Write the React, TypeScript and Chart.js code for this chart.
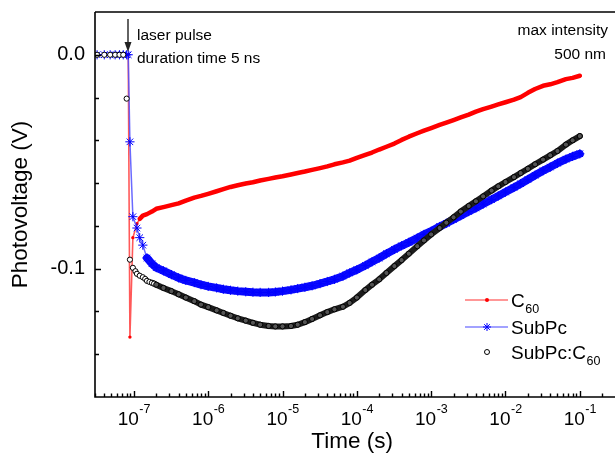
import React, { useEffect, useRef } from 'react';
import { Chart, registerables } from 'chart.js';
Chart.register(...registerables);

const FONT = '"Liberation Sans", Arial, Helvetica, sans-serif';

// ---- data (time in s, photovoltage in V) ----
const c60EarlyTime = [3.2e-8, 4.0e-8, 4.8e-8, 5.6e-8, 6.4e-8, 7.2e-8, 8.0e-8, 8.4e-8, 8.85e-8, 9.7e-8, 1.1e-7, 1.2e-7, 1.32e-7, 1.5e-7, 1.75e-7];
const c60EarlyV = [0, 0, 0, 0, 0, 0, 0, 0, -0.132, -0.0855, -0.079, -0.0767, -0.0752, -0.0745, -0.0733];

const subpcEarlyTime = [3.2e-8, 4.0e-8, 4.8e-8, 5.6e-8, 6.4e-8, 7.2e-8, 8.0e-8, 8.4e-8, 8.85e-8, 9.7e-8, 1.1e-7, 1.2e-7, 1.32e-7, 1.5e-7, 1.75e-7];
const subpcEarlyV = [0, 0, 0, 0, 0, 0, 0, 0, -0.0407, -0.0757, -0.081, -0.0855, -0.089, -0.095, -0.0977];

const blendEarlyTime = [3.2e-8, 4.0e-8, 4.8e-8, 5.6e-8, 6.4e-8, 7.2e-8, 8.0e-8, 8.85e-8, 9.7e-8, 1.05e-7, 1.1e-7, 1.2e-7, 1.32e-7, 1.42e-7, 1.5e-7, 1.62e-7, 1.75e-7, 1.87e-7];
const blendEarlyV = [0, 0, 0, 0, 0, 0, -0.0205, -0.0958, -0.0996, -0.1012, -0.1024, -0.1033, -0.104, -0.1048, -0.1057, -0.1062, -0.1066, -0.107];

const lateTime = [
  2e-7, 2.5e-7, 3.2e-7, 4e-7, 5e-7, 6.5e-7, 8e-7,
  1e-6, 1.3e-6, 1.6e-6, 2e-6, 2.5e-6, 3.2e-6, 4e-6, 5e-6, 6.5e-6, 8e-6,
  1e-5, 1.3e-5, 1.6e-5, 2e-5, 2.5e-5, 3.2e-5, 4e-5, 5e-5, 6.5e-5, 8e-5,
  1e-4, 1.3e-4, 1.6e-4, 2e-4, 2.5e-4, 3.2e-4, 4e-4, 5e-4, 6.5e-4, 8e-4,
  1e-3, 1.3e-3, 1.6e-3, 2e-3, 2.5e-3, 3.2e-3, 4e-3, 5e-3, 6.5e-3, 8e-3,
  1e-2, 1.3e-2, 1.6e-2, 2e-2, 2.5e-2, 3.2e-2, 4e-2, 5e-2, 6.5e-2, 8e-2,
  1e-1,
];

const c60LateV = [
  -0.0720, -0.0712, -0.0703, -0.0695, -0.0682, -0.0668, -0.0660,
  -0.0650, -0.0638, -0.0628, -0.0618, -0.0610, -0.0602, -0.0596, -0.0588, -0.0580, -0.0574,
  -0.0568, -0.0560, -0.0553, -0.0546, -0.0538, -0.0530, -0.0522, -0.0512, -0.0503, -0.0495,
  -0.0482, -0.0468, -0.0457, -0.0443, -0.0430, -0.0415, -0.0398, -0.0383, -0.0367, -0.0355,
  -0.0343, -0.0328, -0.0317, -0.0305, -0.0293, -0.0280, -0.0266, -0.0254, -0.0242, -0.0232,
  -0.0222, -0.0210, -0.0198, -0.0178, -0.0160, -0.0145, -0.0138, -0.0128, -0.0114, -0.0108,
  -0.0098,
];

const subpcLateV = [
  -0.0995, -0.1010, -0.1028, -0.1043, -0.1055, -0.1065, -0.1075,
  -0.1083, -0.1090, -0.1096, -0.1101, -0.1105, -0.1108, -0.1110, -0.1111, -0.1111, -0.1109,
  -0.1105, -0.1099, -0.1093, -0.1087, -0.1080, -0.1070, -0.1060, -0.1050, -0.1035, -0.1020,
  -0.1005, -0.0985, -0.0968, -0.0950, -0.0930, -0.0910, -0.0893, -0.0877, -0.0857, -0.0840,
  -0.0825, -0.0803, -0.0788, -0.0770, -0.0752, -0.0733, -0.0716, -0.0698, -0.0677, -0.0660,
  -0.0642, -0.0620, -0.0603, -0.0583, -0.0563, -0.0542, -0.0525, -0.0507, -0.0488, -0.0475,
  -0.0463,
];

const blendLateV = [
  -0.1075, -0.1090, -0.1105, -0.1120, -0.1135, -0.1152, -0.1168,
  -0.1180, -0.1195, -0.1207, -0.1220, -0.1232, -0.1243, -0.1253, -0.1262, -0.1268, -0.1270,
  -0.1270, -0.1268, -0.1262, -0.1250, -0.1235, -0.1218, -0.1203, -0.1190, -0.1178, -0.1160,
  -0.1135, -0.1100, -0.1075, -0.1050, -0.1020, -0.0988, -0.0960, -0.0930, -0.0895, -0.0868,
  -0.0840, -0.0810, -0.0785, -0.0760, -0.0733, -0.0707, -0.0685, -0.0662, -0.0635, -0.0615,
  -0.0595, -0.0572, -0.0553, -0.0533, -0.0512, -0.0490, -0.0470, -0.0450, -0.0420, -0.0400,
  -0.0380,
];

const xDecadeExponents = [-7, -6, -5, -4, -3, -2, -1];
const yLabelValues = [0, -0.1];
const X_MIN = 3e-8;
const X_MAX = 0.25;
const Y_MIN = -0.16;
const Y_MAX = 0.02;

function pts(t: number[], v: number[]) {
  return t.map((x, i) => ({ x, y: v[i] }));
}

export default function App() {
  const ref = useRef<HTMLCanvasElement>(null);

  useEffect(() => {
    const canvas = ref.current!;

    const overlay = {
      id: 'overlay',
      afterDraw(chart: any) {
        const ctx = chart.ctx as CanvasRenderingContext2D;
        const xs = chart.scales.x;
        const ys = chart.scales.y;
        const { left, right, top, bottom } = chart.chartArea;
        ctx.save();
        ctx.strokeStyle = '#000';
        ctx.fillStyle = '#000';
        ctx.lineWidth = 1.6;
        // frame: left, bottom, top
        ctx.beginPath();
        ctx.moveTo(left, top);
        ctx.lineTo(left, bottom);
        ctx.lineTo(615, bottom);
        ctx.moveTo(left, top);
        ctx.lineTo(615, top);
        ctx.stroke();

        // y ticks (inward)
        ctx.lineWidth = 1.4;
        ctx.beginPath();
        for (let k = -7; k <= 0; k++) {
          const v = k * 0.02;
          const py = Math.round(ys.getPixelForValue(v)) + 0.5;
          const major = k === 0 || k === -5;
          ctx.moveTo(left, py);
          ctx.lineTo(left + (major ? 6 : 4), py);
        }
        // x ticks (inward)
        for (let e = -8; e <= -1; e++) {
          for (let m = 1; m <= 9; m++) {
            const t = m * Math.pow(10, e);
            if (t <= X_MIN || t >= X_MAX) continue;
            const px = Math.round(xs.getPixelForValue(t)) + 0.5;
            ctx.moveTo(px, bottom);
            ctx.lineTo(px, bottom - (m === 1 ? 6 : 3.5));
          }
        }
        ctx.stroke();

        // x tick labels 10^n
        ctx.textBaseline = 'alphabetic';
        ctx.textAlign = 'left';
        for (const e of xDecadeExponents) {
          const px = xs.getPixelForValue(Math.pow(10, e));
          ctx.font = `19px ${FONT}`;
          const w1 = ctx.measureText('10').width;
          ctx.font = `12.5px ${FONT}`;
          const sup = String(e);
          const w2 = ctx.measureText(sup).width;
          const x0 = px - (w1 + w2) / 2;
          ctx.font = `19px ${FONT}`;
          ctx.fillText('10', x0, 425);
          ctx.font = `12.5px ${FONT}`;
          ctx.fillText(sup, x0 + w1 + 0.5, 413);
        }

        // axis titles
        ctx.font = `22.5px ${FONT}`;
        ctx.textAlign = 'center';
        ctx.fillText('Time (s)', (left + right) / 2, 448);
        ctx.save();
        ctx.translate(27, (top + bottom) / 2);
        ctx.rotate(-Math.PI / 2);
        ctx.fillText('Photovoltage (V)', 0, 0);
        ctx.restore();

        // annotations
        ctx.font = `15.5px ${FONT}`;
        ctx.textAlign = 'left';
        ctx.fillText('laser pulse', 137, 40);
        ctx.fillText('duration time 5 ns', 137, 63);
        ctx.textAlign = 'right';
        ctx.fillText('max intensity', 608, 35);
        ctx.fillText('500 nm', 606, 59);

        // arrow
        ctx.strokeStyle = '#222';
        ctx.fillStyle = '#222';
        ctx.lineWidth = 1.4;
        ctx.beginPath();
        ctx.moveTo(128, 19);
        ctx.lineTo(128, 44);
        ctx.stroke();
        ctx.beginPath();
        ctx.moveTo(124.5, 42);
        ctx.lineTo(131.5, 42);
        ctx.lineTo(128, 52);
        ctx.closePath();
        ctx.fill();

        // legend
        const lx0 = 465, lx1 = 508, mx = 487, tx = 511;
        const rows = [300, 327, 352];
        ctx.lineWidth = 1.5;
        ctx.strokeStyle = 'rgba(255,70,70,0.75)';
        ctx.beginPath(); ctx.moveTo(lx0, rows[0]); ctx.lineTo(lx1, rows[0]); ctx.stroke();
        ctx.fillStyle = '#ff0000';
        ctx.beginPath(); ctx.arc(mx, rows[0], 2, 0, Math.PI * 2); ctx.fill();
        ctx.strokeStyle = 'rgba(90,90,255,0.75)';
        ctx.beginPath(); ctx.moveTo(lx0, rows[1]); ctx.lineTo(lx1, rows[1]); ctx.stroke();
        ctx.strokeStyle = '#0000ff';
        ctx.lineWidth = 1;
        ctx.beginPath();
        const r = 4;
        ctx.moveTo(mx - r, rows[1]); ctx.lineTo(mx + r, rows[1]);
        ctx.moveTo(mx, rows[1] - r); ctx.lineTo(mx, rows[1] + r);
        const d = r * 0.707;
        ctx.moveTo(mx - d, rows[1] - d); ctx.lineTo(mx + d, rows[1] + d);
        ctx.moveTo(mx - d, rows[1] + d); ctx.lineTo(mx + d, rows[1] - d);
        ctx.stroke();
        ctx.strokeStyle = '#000';
        ctx.fillStyle = '#fff';
        ctx.beginPath(); ctx.arc(mx, rows[2], 2.5, 0, Math.PI * 2); ctx.fill(); ctx.stroke();

        ctx.fillStyle = '#000';
        ctx.textAlign = 'left';
        const drawSub = (main: string, sub: string, y: number) => {
          ctx.font = `19px ${FONT}`;
          ctx.fillText(main, tx, y + 7);
          const w = ctx.measureText(main).width;
          if (sub) {
            ctx.font = `12.5px ${FONT}`;
            ctx.fillText(sub, tx + w + 0.5, y + 13);
          }
        };
        drawSub('C', '60', rows[0]);
        drawSub('SubPc', '', rows[1]);
        drawSub('SubPc:C', '60', rows[2]);
        ctx.restore();
      },
    };

    const chart = new Chart(canvas, {
      type: 'scatter',
      data: {
        datasets: [
          {
            label: 'C60',
            data: pts([...c60EarlyTime, ...lateTime], [...c60EarlyV, ...c60LateV]),
            showLine: true,
            order: 3,
            borderColor: '#ff0000',
            backgroundColor: '#ff0000',
            pointRadius: 1.7,
            pointBorderWidth: 0,
            pointBackgroundColor: '#ff0000',
            borderCapStyle: 'round',
            borderJoinStyle: 'round',
            segment: {
              borderWidth: (c: any) => (c.p0.parsed.x >= 1.2e-7 ? 4.5 : 1.6),
              borderColor: (c: any) => (c.p0.parsed.x >= 1.2e-7 ? '#ff0000' : 'rgba(255,60,60,0.85)'),
            },
          } as any,
          {
            label: 'SubPc',
            data: pts([...subpcEarlyTime, ...lateTime], [...subpcEarlyV, ...subpcLateV]),
            showLine: true,
            order: 2,
            borderColor: '#0000ff',
            backgroundColor: '#0000ff',
            pointStyle: 'star',
            pointRadius: 4.6,
            pointBorderWidth: 1,
            pointBorderColor: '#0000ff',
            borderCapStyle: 'round',
            borderJoinStyle: 'round',
            segment: {
              borderWidth: (c: any) => (c.p0.parsed.x >= 1.5e-7 ? 8 : 1.5),
              borderColor: (c: any) => (c.p0.parsed.x >= 1.5e-7 ? '#0a0aff' : 'rgba(80,80,255,0.85)'),
            },
          } as any,
          {
            label: 'SubPc:C60',
            data: pts([...blendEarlyTime, ...lateTime], [...blendEarlyV, ...blendLateV]),
            showLine: true,
            order: 1,
            borderColor: '#1a1a1a',
            pointStyle: 'circle',
            pointRadius: 2.6,
            pointBorderWidth: 1,
            pointBorderColor: '#000',
            pointBackgroundColor: (c: any) => (c.raw && c.raw.x < 1.9e-7 ? '#ffffff' : '#555555'),
            borderCapStyle: 'round',
            borderJoinStyle: 'round',
            segment: {
              borderWidth: (c: any) => (c.p0.parsed.x >= 1.75e-7 ? 6 : 1),
              borderColor: (c: any) => (c.p0.parsed.x >= 1.75e-7 ? '#1c1c1c' : 'rgba(0,0,0,0)'),
            },
          } as any,
        ],
      },
      options: {
        responsive: false,
        maintainAspectRatio: false,
        devicePixelRatio: 1,
        animation: false,
        layout: { padding: { top: 12, right: 2, left: 0, bottom: 0 } },
        plugins: {
          legend: { display: false },
          tooltip: { enabled: false },
        },
        scales: {
          x: {
            type: 'logarithmic',
            min: X_MIN,
            max: X_MAX,
            grid: { display: false, drawTicks: false },
            border: { display: false },
            ticks: { display: false },
            afterFit: (s: any) => { s.height = 64; s.paddingLeft = 0; s.paddingRight = 0; },
          },
          y: {
            type: 'linear',
            min: Y_MIN,
            max: Y_MAX,
            grid: { display: false, drawTicks: false },
            border: { display: false },
            ticks: {
              stepSize: 0.02,
              padding: 10,
              color: '#000',
              font: { family: FONT, size: 20 },
              autoSkip: false,
              callback: (v: any) => {
                const n = Number(v);
                for (const lv of yLabelValues) {
                  if (Math.abs(n - lv) < 1e-9) return lv.toFixed(1);
                }
                return '';
              },
            },
            afterFit: (s: any) => { s.width = 95; s.paddingTop = 0; s.paddingBottom = 0; },
          },
        },
      } as any,
      plugins: [overlay],
    });
    return () => chart.destroy();
  }, []);

  return (
    <div style={{ position: 'absolute', left: 0, top: 0, width: 615, height: 461, background: '#fff' }}>
      <canvas ref={ref} width={615} height={461} style={{ width: 615, height: 461, display: 'block' }} />
    </div>
  );
}
